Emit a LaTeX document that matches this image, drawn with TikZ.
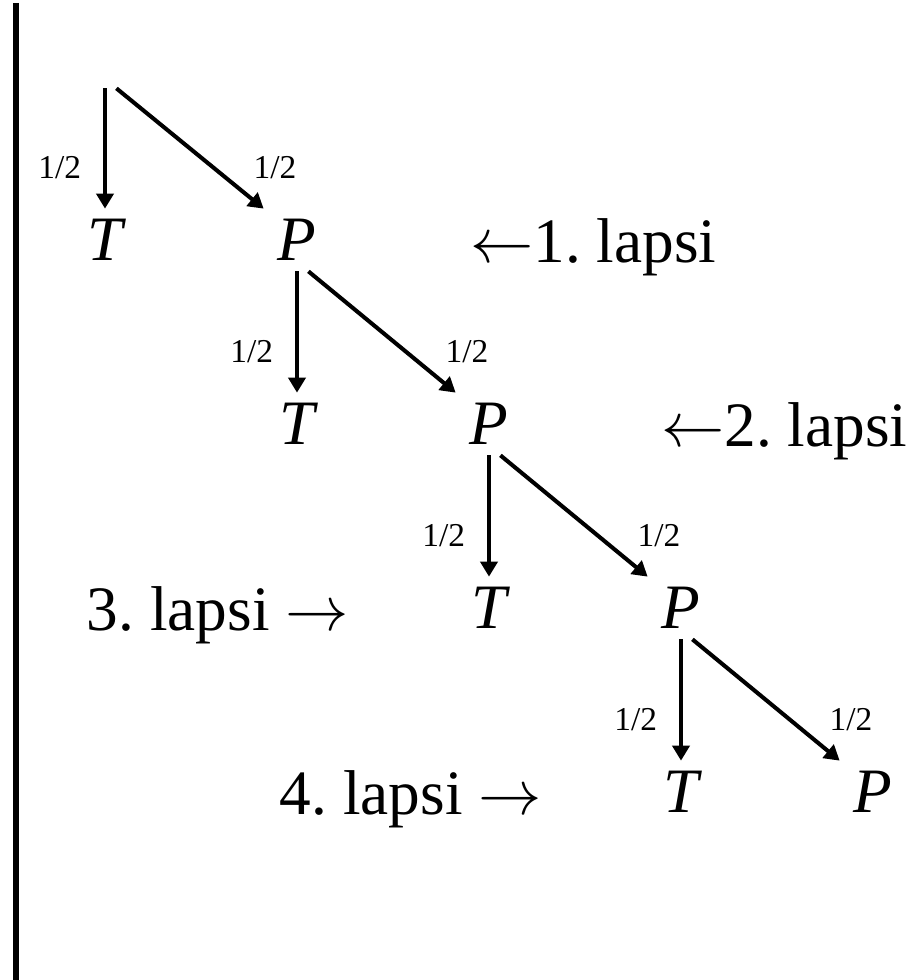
\RequirePackage{fix-cm}
\documentclass[tikz,border=0pt]{standalone}
\usepackage{fontspec}
\setmainfont{Liberation Serif}
\usepackage{tikz}
\usetikzlibrary{positioning,arrows.meta}
\frenchspacing

\begin{document}
\begin{tikzpicture}[
  outc/.style={minimum width=1.32cm, minimum height=1.24cm, inner sep=0pt, font=\fontsize{36}{40}\selectfont\itshape},
  prob/.style={font=\fontsize{19}{22}\selectfont, inner sep=0pt},
  lapsi/.style={font=\fontsize{36}{40}\selectfont, inner sep=0pt},
  arr/.style={line width=2.3pt, -{Triangle[length=0.3cm,width=0.34cm]}}
]
\useasboundingbox (0,0) rectangle (18.48,-19.6);
\draw[line width=3.4pt] (0.32,-0.06) -- (0.32,-19.6);

\node[outc] (p0) at (2.10,-1.14) {};
\node[outc] (t1) at (2.10,-4.80) {T};
\node[outc] (p1) at (5.94,-4.80) {P};
\node[outc] (t2) at (5.94,-8.48) {T};
\node[outc] (p2) at (9.78,-8.48) {P};
\node[outc] (t3) at (9.78,-12.16) {T};
\node[outc] (p3) at (13.62,-12.16) {P};
\node[outc] (t4) at (13.62,-15.84) {T};
\node[outc] (p4) at (17.46,-15.84) {P};

\foreach \a/\b in {0/1,1/2,2/3,3/4}{
  \draw[arr] (p\a.south) -- (t\b.north) node[prob, pos=0.66, left=0.44cm] {1/2};
  \draw[arr] (p\a.-70) -- (p\b.north west) node[prob, pos=0.66, right=0.76cm] {1/2};
}

\node[lapsi, anchor=base west] (l1) at (9.40,-5.24) {$\leftarrow$1. lapsi};
\node[lapsi, anchor=base west] (l2) at (13.22,-8.92) {$\leftarrow$2. lapsi};
\node[lapsi, anchor=base east] (l3) at (6.98,-12.60) {3. lapsi $\rightarrow$};
\node[lapsi, anchor=base east] (l4) at (10.84,-16.28) {4. lapsi $\rightarrow$};

\end{tikzpicture}
\end{document}
